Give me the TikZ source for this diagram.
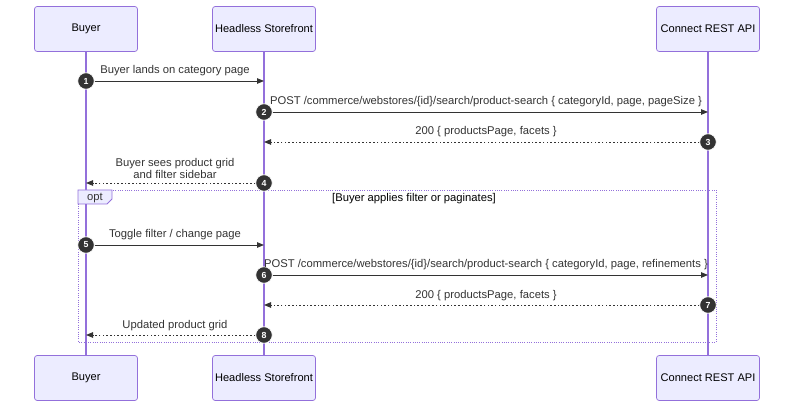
\documentclass[tikz,border=0pt]{standalone}
\usepackage{fontspec}
\setmainfont{Liberation Sans}
\usepackage{xcolor}
\usetikzlibrary{arrows.meta}
\definecolor{actorfill}{HTML}{ECECFF}
\definecolor{actorline}{HTML}{9370DB}
\definecolor{ink}{HTML}{333333}

\begin{document}
\begin{tikzpicture}[x=0.02cm,y=-0.02cm,>={Triangle[length=1.4mm,width=1.1mm]},
  actor/.style={draw=actorline,fill=actorfill,rounded corners=1.5pt,minimum width=2.06cm,minimum height=0.9cm,inner sep=0pt,text=black,font=\fontsize{6.3}{7.5}\selectfont},
  life/.style={draw=actorline,line width=0.6pt},
  num/.style={circle,fill=ink,draw=white,line width=0.4pt,text=white,inner sep=0pt,minimum size=0.33cm,font=\bfseries\fontsize{5}{5}\selectfont},
  msg/.style={draw=ink,line width=0.5pt,->},
  reply/.style={draw=ink,line width=0.5pt,dash pattern=on 0.9pt off 1.2pt,->},
  lbl/.style={text=ink,align=center,inner sep=0pt,font=\fontsize{6.4}{7.3}\selectfont}]
\useasboundingbox (0,0) rectangle (800,411);
% participants
\node[actor] (buyer) at (86,29) {Buyer};
\node[actor] (shop) at (264,29) {Headless Storefront};
\node[actor] (api) at (708,29) {Connect REST API};
\node[actor] (buyerb) at (86,378) {Buyer};
\node[actor] (shopb) at (264,378) {Headless Storefront};
\node[actor] (apib) at (708,378) {Connect REST API};
\draw[life] (buyer) -- (buyerb);
\draw[life] (shop) -- (shopb);
\draw[life] (api) -- (apib);
% opt frame
\draw[actorline,line width=0.5pt,dash pattern=on 0.5pt off 0.8pt] (78,190) rectangle (716,342);
\draw[actorline,fill=actorfill,line width=0.5pt] (78,190) -- (112,190) -- (112,199) -- (107,204) -- (78,204) -- cycle;
\node[lbl] (opt) at (95,198) {opt};
\node[lbl,text=black] (cond) at (414,199) {[Buyer applies filter or paginates]};
% messages
\coordinate (e1) at (264,81);
\coordinate (e2) at (708,112);
\coordinate (e3) at (264,142);
\coordinate (e4) at (86,183);
\coordinate (e5) at (264,245);
\coordinate (e6) at (708,275);
\coordinate (e7) at (264,305);
\coordinate (e8) at (86,335);
\node[num] (m1) at (86,81) {1};
\node[num] (m2) at (264,112) {2};
\node[num] (m3) at (708,142) {3};
\node[num] (m4) at (264,183) {4};
\node[num] (m5) at (86,245) {5};
\node[num] (m6) at (264,275) {6};
\node[num] (m7) at (708,305) {7};
\node[num] (m8) at (264,335) {8};
\draw[msg] (m1) -- (e1);
\draw[msg] (m2) -- (e2);
\draw[reply] (m3) -- (e3);
\draw[reply] (m4) -- (e4);
\draw[msg] (m5) -- (e5);
\draw[msg] (m6) -- (e6);
\draw[reply] (m7) -- (e7);
\draw[reply] (m8) -- (e8);
\node[lbl] (t1) at (175,71) {Buyer lands on category page};
\node[lbl] (t2) at (486,101.5) {POST /commerce/webstores/\{id\}/search/product-search \{ categoryId, page, pageSize \}};
\node[lbl] (t3) at (486,132) {200 \{ productsPage, facets \}};
\node[lbl] (t4) at (175,168.5) {Buyer sees product grid\\and filter sidebar};
\node[lbl] (t5) at (175,235) {Toggle filter / change page};
\node[lbl] (t6) at (486,265) {POST /commerce/webstores/\{id\}/search/product-search \{ categoryId, page, refinements \}};
\node[lbl] (t7) at (486,295.5) {200 \{ productsPage, facets \}};
\node[lbl] (t8) at (175,325.5) {Updated product grid};
\end{tikzpicture}
\end{document}
